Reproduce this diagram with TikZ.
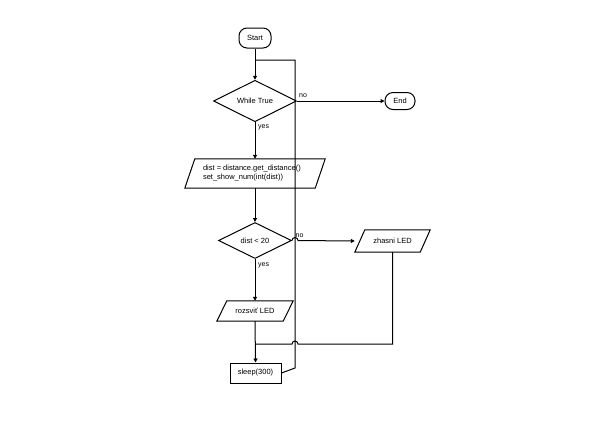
\documentclass[tikz,border=0pt]{standalone}
\usepackage{fontspec}
\setmainfont{Liberation Sans}
\usetikzlibrary{shapes.geometric,arrows.meta}
\begin{document}
\begin{tikzpicture}[x=1pt,y=-1pt, font=\fontsize{7.5}{9}\selectfont,
  line/.style={line width=1pt},
  arr/.style={line, -{Triangle[length=4pt,width=4pt]}},
  term/.style={draw,line width=1pt,rounded corners=8pt,minimum width=32pt,minimum height=20pt,inner sep=0pt},
  dec/.style={draw,line width=1pt,diamond,inner sep=0pt},
  box/.style={inner sep=0pt},
  lbl/.style={anchor=west,inner sep=0pt,font=\fontsize{7}{8}\selectfont}]
\useasboundingbox (0,0) rectangle (593,421);
\node[term] (start) at (255,38) {Start};
\node[dec,minimum width=83pt,minimum height=41pt] (while) at (255,101) {While True};
\node[term,minimum width=30pt,minimum height=17pt] (end) at (400,101) {End};
\node[box,minimum width=130pt,minimum height=29pt] (proc) at (255,173.5) {};
\draw[line] ([xshift=5pt]proc.north west) -- ([xshift=5pt]proc.north east) -- ([xshift=-5pt]proc.south east) -- ([xshift=-5pt]proc.south west) -- cycle;
\node[anchor=west,align=left,inner sep=0pt] (proctxt) at ([xshift=13pt]proc.west) {dist = distance.get\_distance()\\set\_show\_num(int(dist))};
\node[dec,minimum width=73pt,minimum height=36pt] (cmp) at (255,240.5) {dist < 20};
\node[box,minimum width=65pt,minimum height=22pt] (zh) at (392.5,241) {zhasni LED};
\draw[line] ([xshift=5pt]zh.north west) -- ([xshift=5pt]zh.north east) -- ([xshift=-5pt]zh.south east) -- ([xshift=-5pt]zh.south west) -- cycle;
\node[box,minimum width=66pt,minimum height=20pt] (roz) at (255,311) {rozsviť LED};
\draw[line] ([xshift=5pt]roz.north west) -- ([xshift=5pt]roz.north east) -- ([xshift=-5pt]roz.south east) -- ([xshift=-5pt]roz.south west) -- cycle;
\node[draw,line width=1pt,minimum width=51pt,minimum height=20pt,inner sep=0pt] (sleep) at (255.5,373) {sleep(300)};
\coordinate (j1) at (255,60);
\coordinate (j2) at (255,344);
% connectors
\draw[arr] (start) -- (while.north);
\draw[arr] (while.east) -- (end.west);
\node[lbl] (no1) at (299,96) {no};
\draw[arr] (while.south) -- (proc.north);
\node[lbl] (yes1) at (258,127) {yes};
\draw[arr] (proc.south) -- (cmp.north);
\draw[arr] (cmp.east) -- (292,240.5) arc[start angle=180,end angle=360,radius=3] -- ([xshift=-5pt]zh.west);
\node[lbl] (no2) at (295.5,235.5) {no};
\draw[arr] (cmp.south) -- (roz.north);
\node[lbl] (yes2) at (258,265) {yes};
\draw[arr] (roz.south) -- (sleep.north);
\draw[line] (zh.south) -- (zh.south |- j2) -- (298,344) arc[start angle=360,end angle=180,radius=3] -- (j2);
\draw[line] (sleep.east) -- (295,368) -- (295,60) -- (j1);
\end{tikzpicture}
\end{document}
